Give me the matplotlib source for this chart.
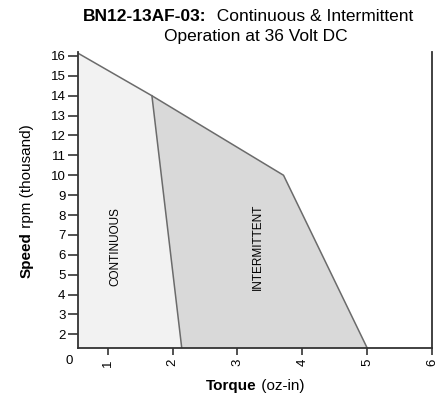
import matplotlib
matplotlib.use('Agg')
import matplotlib.pyplot as plt

plt.rcParams['font.family'] = ['Liberation Sans', 'DejaVu Sans']

# operating envelope, torque (oz-in) vs speed (thousand rpm)
x_min, x_max = 0.54, 6.0
y_min, y_max = 1.31, 16.2
cont_torque = [0.54, 1.68, 2.14, 0.54]
cont_speed = [16.14, 14.0, 1.31, 1.31]
inter_torque = [1.68, 3.71, 5.0, 2.14]
inter_speed = [14.0, 10.0, 1.31, 1.31]
edge_torque = [0.54, 1.68, 3.71, 5.0]
edge_speed = [16.14, 14.0, 10.0, 1.31]
x_ticks = [1, 2, 3, 4, 5, 6]
y_ticks = list(range(2, 17))

W, H = 443, 400
fig = plt.figure(figsize=(W / 100, H / 100), dpi=100)
ax = fig.add_axes([78 / W, 1 - 348 / H, (432 - 78) / W, (348 - 52) / H])

ax.fill(cont_torque, cont_speed, facecolor='#f2f2f2', edgecolor='none', zorder=1)
ax.fill(inter_torque, inter_speed, facecolor='#d9d9d9', edgecolor='none', zorder=1)
ax.plot(edge_torque, edge_speed, color='#6b6b6b', lw=1.1, zorder=2)
ax.plot([1.68, 2.14], [14.0, 1.31], color='#6b6b6b', lw=1.1, zorder=2)

ax.set_xlim(x_min, x_max)
ax.set_ylim(y_min, y_max)
ax.set_xticks(x_ticks)
ax.set_yticks(y_ticks)
ax.set_xticklabels([str(t) for t in x_ticks], rotation=90, fontsize=9.5)
ax.set_yticklabels([str(t) for t in y_ticks], fontsize=9.5)
ax.tick_params(axis='y', direction='out', length=7, width=1.2, color='#333333', pad=2)
ax.tick_params(axis='x', direction='out', length=5, width=1.2, color='#333333', pad=3)
ax.spines['top'].set_visible(False)
for s in ['left', 'bottom', 'right']:
    ax.spines[s].set_linewidth(1.3)
    ax.spines[s].set_color('#333333')

ax.text(1.11, 6.4, 'CONTINUOUS', rotation=90, ha='center', va='center', fontsize=8.5)
ax.text(3.32, 6.4, 'INTERMITTENT', rotation=90, ha='center', va='center', fontsize=8.5)
fig.text(69 / W, 1 - 361 / H, '0', ha='center', va='center', fontsize=9.5)

renderer = fig.canvas.get_renderer()

def mixed(xc, yc, bold, normal, size, rotation=0):
    # bold word followed by regular text, centred on pixel (xc, yc from top)
    t1 = fig.text(0, 0, bold, fontsize=size, fontweight='bold', rotation=rotation)
    t2 = fig.text(0, 0, normal, fontsize=size, rotation=rotation)
    b1 = t1.get_window_extent(renderer)
    b2 = t2.get_window_extent(renderer)
    if rotation == 0:
        start = xc - (b1.width + b2.width) / 2
        t1.set_position((start / W, 1 - yc / H))
        t2.set_position(((start + b1.width) / W, 1 - yc / H))
        for t in (t1, t2):
            t.set_ha('left')
            t.set_va('baseline')
    else:
        start = (H - yc) - (b1.height + b2.height) / 2
        t1.set_position((xc / W, start / H))
        t2.set_position((xc / W, (start + b1.height) / H))
        for t in (t1, t2):
            t.set_ha('center')
            t.set_va('bottom')

mixed(248, 21, 'BN12-13AF-03:', '  Continuous & Intermittent', 12.5)
fig.text(256 / W, 1 - 41 / H, 'Operation at 36 Volt DC', ha='center', va='baseline', fontsize=12.5)
mixed(27, 201, 'Speed', ' rpm (thousand)', 11, rotation=90)
mixed(255, 390, 'Torque', ' (oz-in)', 11)

fig.savefig('out.png', dpi=100)
